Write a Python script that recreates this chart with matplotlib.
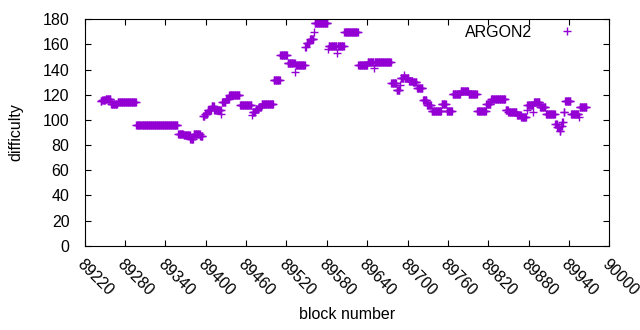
import matplotlib
matplotlib.use("Agg")
import matplotlib.pyplot as plt
import numpy as np

run_first = [89244, 89246, 89251, 89259, 89269, 89297, 89359, 89367, 89377, 89382,
             89392, 89396, 89399, 89403, 89409, 89413, 89423, 89424, 89430, 89435,
             89451, 89469, 89470, 89474, 89479, 89483, 89501, 89511, 89522, 89533,
             89534, 89548, 89550, 89555, 89561, 89562, 89582, 89583, 89595, 89596,
             89606, 89627, 89641, 89650, 89651, 89676, 89684, 89689, 89690, 89695,
             89696, 89702, 89708, 89714, 89723, 89729, 89736, 89751, 89758, 89767,
             89779, 89791, 89804, 89817, 89824, 89846, 89850, 89863, 89869, 89877,
             89878, 89887, 89888, 89897, 89906, 89920, 89923, 89926, 89928, 89930,
             89932, 89934, 89943, 89955, 89956]
run_last = [89245, 89250, 89258, 89268, 89296, 89358, 89366, 89376, 89381, 89391,
            89395, 89398, 89402, 89408, 89412, 89422, 89423, 89429, 89434, 89450,
            89468, 89469, 89473, 89478, 89482, 89500, 89510, 89521, 89532, 89533,
            89547, 89549, 89554, 89560, 89561, 89581, 89582, 89594, 89595, 89605,
            89626, 89640, 89649, 89650, 89675, 89683, 89688, 89689, 89694, 89695,
            89701, 89707, 89713, 89722, 89728, 89735, 89750, 89757, 89766, 89778,
            89790, 89803, 89816, 89823, 89845, 89849, 89862, 89868, 89876, 89877,
            89886, 89887, 89896, 89905, 89919, 89922, 89925, 89927, 89929, 89931,
            89933, 89942, 89954, 89955, 89966]
run_value = [115, 116, 117, 113, 114, 96, 89, 88, 85, 89,
             87, 103, 105, 108, 111, 108, 105, 114, 117, 120,
             112, 104, 106, 109, 110, 113, 132, 152, 145, 138,
             144, 158, 161, 164, 170, 177, 156, 159, 153, 159,
             170, 144, 146, 141, 146, 129, 124, 128, 133, 136,
             133, 131, 130, 125, 116, 112, 107, 113, 107, 121,
             123, 121, 107, 113, 117, 108, 106, 104, 102, 108,
             112, 106, 114, 110, 105, 97, 94, 91, 95, 98,
             106, 115, 105, 102, 110]

x_ticks = list(range(89220, 90001, 60))
y_ticks = list(range(0, 181, 20))

blocks = []
difficulty = []
for first, last, value in zip(run_first, run_last, run_value):
    for block in range(first, last + 1):
        blocks.append(block)
        difficulty.append(value)

plt.rcParams["font.family"] = ["Liberation Sans", "DejaVu Sans"]
plt.rcParams["font.size"] = 11.5

fig = plt.figure(figsize=(6.4, 3.3), dpi=100)
ax = fig.add_axes([0.1323, 0.2555, 0.8197, 0.686])

color = "#9400d3"
ax.plot(blocks, difficulty, linestyle="none", marker="+", markersize=5.8,
        markeredgewidth=1.0, color=color, label="ARGON2")

ax.set_xlim(89220, 90000)
ax.set_ylim(0, 180)
ax.set_xticks(x_ticks)
ax.set_yticks(y_ticks)
ax.tick_params(direction="in", length=4, width=0.8, top=True, right=True,
               colors="black", labelsize=11.5)
for label in ax.get_xticklabels():
    label.set_rotation(-45)
    label.set_ha("left")
    label.set_va("top")
    label.set_rotation_mode("anchor")
ax.tick_params(axis="x", pad=8)
ax.tick_params(axis="y", pad=11)
for spine in ax.spines.values():
    spine.set_linewidth(0.8)

ax.set_xlabel("block number", labelpad=6)
ax.set_ylabel("difficulty", labelpad=14)

ax.legend(loc="upper right", bbox_to_anchor=(0.99, 1.04), frameon=False,
          markerfirst=False, numpoints=1, handlelength=2.8, fontsize=11.5)

fig.savefig("out.png", dpi=100)
